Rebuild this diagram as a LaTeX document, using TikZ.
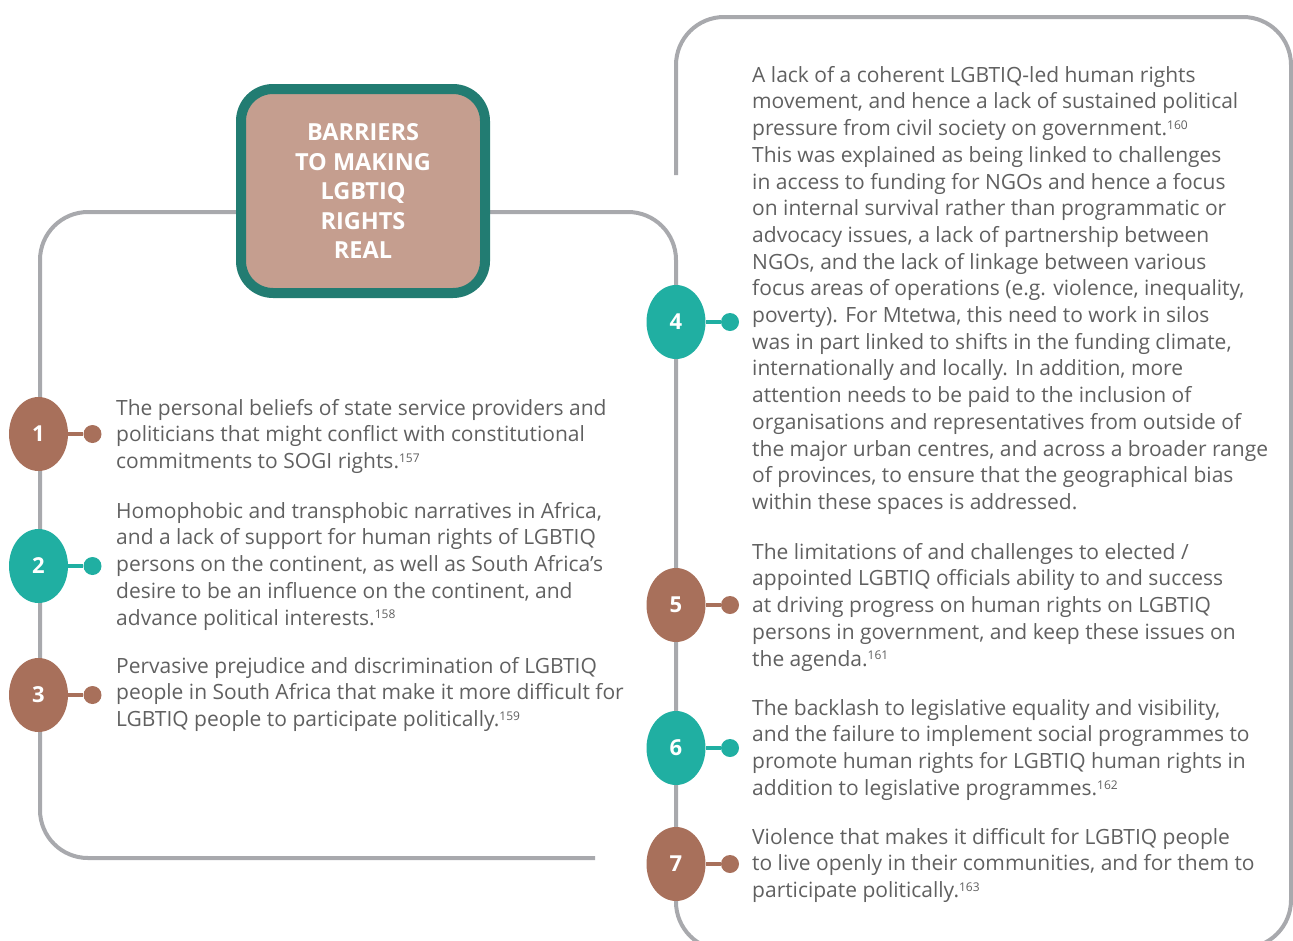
\documentclass[tikz,border=0pt]{standalone}
\usepackage{fontspec}
\setmainfont{Open Sans}
\usetikzlibrary{shapes.geometric}

\definecolor{rail}{RGB}{168,169,173}
\definecolor{rust}{RGB}{168,112,91}
\definecolor{sea}{RGB}{32,175,162}
\definecolor{clay}{RGB}{197,158,143}
\definecolor{pine}{RGB}{34,124,114}
\definecolor{ink}{RGB}{96,96,96}

\newcommand{\fn}[1]{\raisebox{0.55ex}{\fontsize{12}{12}\selectfont #1}}

\begin{document}
\begin{tikzpicture}[x=1pt,y=-1pt]
    \tikzstyle{frame}=[draw=rail,line width=4pt,rounded corners=48pt]
    \tikzstyle{badge}=[ellipse,minimum width=59pt,minimum height=74pt,inner sep=0,text=white,font=\fontsize{22}{24}\selectfont\bfseries]
    \tikzstyle{knob}=[circle,minimum size=18pt,inner sep=0]
    \tikzstyle{txt}=[anchor=north west,inner sep=0,align=left,text=ink,font=\fontsize{21}{26.7}\selectfont]
    \tikzstyle{title}=[rectangle,draw=pine,fill=clay,line width=10pt,rounded corners=32pt,minimum width=244pt,minimum height=204pt,align=center,text=white,font=\fontsize{23.5}{29.5}\selectfont\bfseries]
    \newcommand{\numnode}[5]{
        \node[badge,fill=#4] (m#1) at (#2,#3) {#5};
        \node[knob,fill=#4] (k#1) at (#2+54,#3) {};
        \draw[line width=4pt,#4] (m#1) -- (k#1);
    }
    \useasboundingbox (0,0) rectangle (1293,940);

    % frames behind everything
    \draw[frame] (363,212) -- (40,212) -- (40,858) -- (595,858);
    \draw[frame] (363,212) -- (676,212) -- (676,950) -- (760,950);
    \draw[frame] (676,175) -- (676,17) -- (1291,17) -- (1291,948) -- (1200,948);

    \node[title] (head) at (363,191) {BARRIERS\\TO MAKING\\LGBTIQ\\RIGHTS\\REAL};

    \numnode{1}{38.5}{434}{rust}{1}
    \numnode{2}{38.5}{566}{sea}{2}
    \numnode{3}{38.5}{695}{rust}{3}
    \numnode{4}{676}{322}{sea}{4}
    \numnode{5}{676}{605}{rust}{5}
    \numnode{6}{676}{748}{sea}{6}
    \numnode{7}{676}{864}{rust}{7}

    \node[txt] (b1) at (116,399) {The personal beliefs of state service providers and\\
        politicians that might conflict with constitutional\\
        commitments to SOGI rights.\fn{157}};
    \node[txt] (b2) at (116,502) {Homophobic and transphobic narratives in Africa,\\
        and a lack of support for human rights of LGBTIQ\\
        persons on the continent, as well as South Africa’s\\
        desire to be an influence on the continent, and\\
        advance political interests.\fn{158}};
    \node[txt] (b3) at (116,657) {Pervasive prejudice and discrimination of LGBTIQ\\
        people in South Africa that make it more difficult for\\
        LGBTIQ people to participate politically.\fn{159}};
    \node[txt] (b4) at (752,66) {A lack of a coherent LGBTIQ-led human rights\\
        movement, and hence a lack of sustained political\\
        pressure from civil society on government.\fn{160}\\
        This was explained as being linked to challenges\\
        in access to funding for NGOs and hence a focus\\
        on internal survival rather than programmatic or\\
        advocacy issues, a lack of partnership between\\
        NGOs, and the lack of linkage between various\\
        focus areas of operations (e.g. violence, inequality,\\
        poverty). For Mtetwa, this need to work in silos\\
        was in part linked to shifts in the funding climate,\\
        internationally and locally. In addition, more\\
        attention needs to be paid to the inclusion of\\
        organisations and representatives from outside of\\
        the major urban centres, and across a broader range\\
        of provinces, to ensure that the geographical bias\\
        within these spaces is addressed.};
    \node[txt] (b5) at (752,543) {The limitations of and challenges to elected /\\
        appointed LGBTIQ officials ability to and success\\
        at driving progress on human rights on LGBTIQ\\
        persons in government, and keep these issues on\\
        the agenda.\fn{161}};
    \node[txt] (b6) at (752,699) {The backlash to legislative equality and visibility,\\
        and the failure to implement social programmes to\\
        promote human rights for LGBTIQ human rights in\\
        addition to legislative programmes.\fn{162}};
    \node[txt] (b7) at (752,828) {Violence that makes it difficult for LGBTIQ people\\
        to live openly in their communities, and for them to\\
        participate politically.\fn{163}};
\end{tikzpicture}
\end{document}
